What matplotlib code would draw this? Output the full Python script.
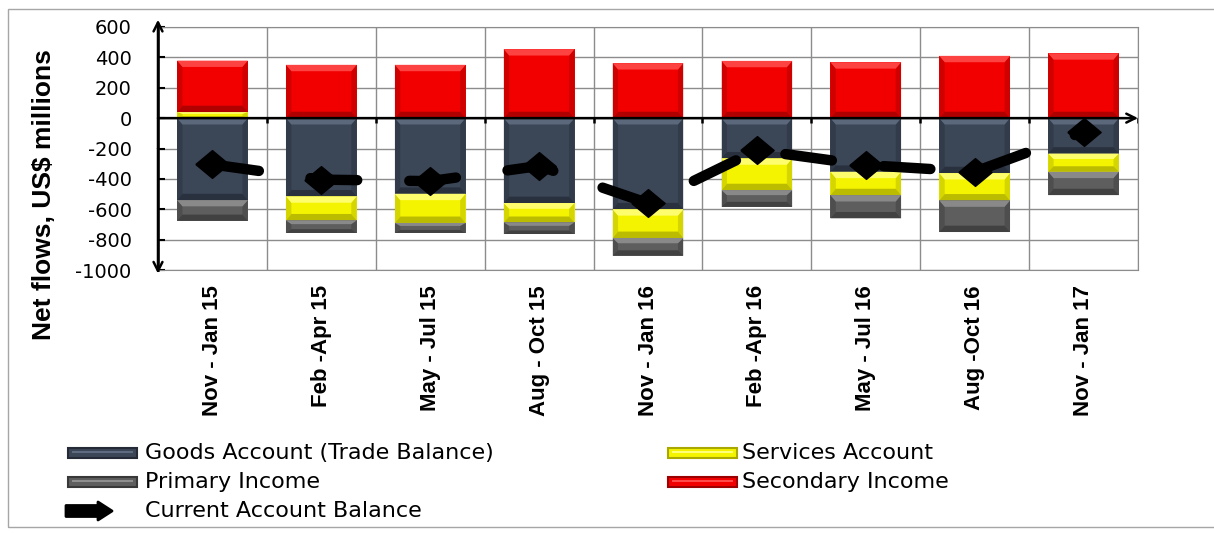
import matplotlib
matplotlib.use("Agg")
import matplotlib.pyplot as plt
import matplotlib.patches as mpatches
from matplotlib.transforms import IdentityTransform
import numpy as np

plt.rcParams["axes.unicode_minus"] = False

periods = ["Nov - Jan 15", "Feb -Apr 15", "May - Jul 15", "Aug - Oct 15", "Nov - Jan 16",
           "Feb -Apr 16", "May - Jul 16", "Aug -Oct 16", "Nov - Jan 17"]
goods = [-540, -515, -498, -559, -600, -265, -353, -362, -233]
services = [40, -158, -192, -127, -189, -209, -154, -180, -120]
primary = [-136, -83, -66, -77, -116, -110, -153, -208, -154]
secondary = [339, 351, 351, 454, 362, 377, 368, 410, 427]
current = [-305, -405, -415, -315, -560, -211, -309, -353, -90]

series = [
    ("Goods Account (Trade Balance)", goods, "#3b4657", "#5f6b80", "#242b36"),
    ("Services Account", services, "#f4f400", "#ffff7a", "#a8a800"),
    ("Primary Income", primary, "#5e5e5e", "#8e8e8e", "#383838"),
    ("Secondary Income", secondary, "#f20000", "#ff4a4a", "#9c0000"),
]

W, H = 1214, 533
fig = plt.figure(figsize=(W / 100, H / 100), dpi=100)
ax = fig.add_axes([158 / W, 1 - 270 / H, (1138 - 158) / W, (270 - 27) / H])

x = np.arange(len(periods))
bar_w = 0.65


def bevel(ax, xc, y_from, y_to, light, dark):
    # bevelled edges on one stacked segment: light top, dark bottom, mid sides
    lo, hi = min(y_from, y_to), max(y_from, y_to)
    x0, x1 = xc - bar_w / 2, xc + bar_w / 2
    bx = 0.05
    by = min(42, (hi - lo) * 0.3)
    top = [(x0, hi), (x1, hi), (x1 - bx, hi - by), (x0 + bx, hi - by)]
    bot = [(x0, lo), (x1, lo), (x1 - bx, lo + by), (x0 + bx, lo + by)]
    left = [(x0, lo), (x0 + bx, lo + by), (x0 + bx, hi - by), (x0, hi)]
    right = [(x1, lo), (x1 - bx, lo + by), (x1 - bx, hi - by), (x1, hi)]
    for pts, c, a in [(left, dark, 0.4), (right, dark, 0.4), (top, light, 0.9), (bot, dark, 0.75)]:
        ax.add_patch(mpatches.Polygon(pts, closed=True, facecolor=c, edgecolor="none",
                                      alpha=a, zorder=2.2))


pos_base = np.zeros(len(x))
neg_base = np.zeros(len(x))
for name, vals, face, light, dark in series:
    vals = np.array(vals, dtype=float)
    base = np.where(vals >= 0, pos_base, neg_base)
    ax.bar(x, vals, bar_w, bottom=base, color=face, edgecolor="none", zorder=2)
    for i in range(len(x)):
        bevel(ax, x[i], base[i], base[i] + vals[i], light, dark)
    pos_base = pos_base + np.where(vals >= 0, vals, 0)
    neg_base = neg_base + np.where(vals < 0, vals, 0)

# current account balance
diamond = [(-1.2, 0), (0, 1), (1.2, 0), (0, -1), (-1.2, 0)]
ax.plot(x, current, color="black", lw=7.5, dashes=(4.5, 5), dash_capstyle="round",
        marker=diamond, markersize=24, zorder=5)

ax.set_xlim(-0.5, len(periods) - 0.5)
ax.set_ylim(-1000, 600)
ax.set_yticks(np.arange(-1000, 601, 200))
ax.set_xticks(x)
ax.set_xticklabels(periods, rotation=90, fontsize=16, fontweight="bold",
                   family="Liberation Sans")
ax.set_xticks(np.arange(-0.5, len(periods), 1), minor=True)
ax.tick_params(axis="x", which="both", length=0, pad=11)
ax.tick_params(axis="y", direction="in", length=5, width=1.5, pad=19, labelsize=14)
for lab in ax.get_yticklabels():
    lab.set_family("DejaVu Sans")

ax.grid(axis="x", which="minor", color="#8c8c8c", lw=1, zorder=0)
ax.grid(axis="y", which="major", color="#8c8c8c", lw=1, zorder=0)
ax.set_axisbelow(True)
for s in ["top", "right", "bottom"]:
    ax.spines[s].set_color("#8c8c8c")
ax.spines["left"].set_color("black")
ax.spines["left"].set_linewidth(1.8)

# axis arrows
arrow = dict(arrowstyle="->", lw=1.8, color="black", mutation_scale=16, shrinkA=0, shrinkB=0)
ax.annotate("", xy=(0, 1.03), xytext=(0, 0.5), xycoords="axes fraction", arrowprops=arrow)
ax.annotate("", xy=(0, -0.015), xytext=(0, 0.5), xycoords="axes fraction", arrowprops=arrow)
ax.annotate("", xy=(len(periods) - 0.5, 0), xytext=(-0.5, 0), arrowprops=arrow, zorder=4)
ax.vlines(np.arange(0.5, len(periods), 1), -35, 0, color="black", lw=1.8, zorder=4)

fig.text(44 / W, 1 - 195 / H, "Net flows, US$ millions", rotation=90, ha="center", va="center",
         fontsize=19, fontweight="bold", family="Liberation Sans")

# legend, drawn in pixel space
ident = IdentityTransform()
rows = [453, 482, 511]
cols = [(68, 145), (668, 742)]
items = [(0, 0, 0), (1, 1, 0), (2, 0, 1), (3, 1, 1)]
for si, ci, ri in items:
    name, _, face, light, dark = series[si]
    hx, tx = cols[ci]
    yc = H - rows[ri]
    fig.add_artist(mpatches.Rectangle((hx, yc - 5), 69, 10, facecolor=face, edgecolor=dark,
                                      lw=1.5, transform=ident))
    fig.add_artist(mpatches.Rectangle((hx + 4, yc), 61, 2.5, facecolor=light, edgecolor="none",
                                      transform=ident))
    fig.text(tx / W, yc / H, name, va="center", ha="left", fontsize=16, family="DejaVu Sans")

yc = H - rows[2]
fig.add_artist(mpatches.FancyArrow(66, yc, 46, 0, width=11, head_width=18, head_length=14,
                                   length_includes_head=True, color="black", lw=2,
                                   joinstyle="round", transform=ident))
fig.text(cols[0][1] / W, yc / H, "Current Account Balance", va="center", ha="left",
         fontsize=16, family="DejaVu Sans")

# outer frame
fig.add_artist(mpatches.Rectangle((8, 6), W, H - 15, facecolor="none", edgecolor="#a6a6a6",
                                  lw=1, transform=ident))

fig.savefig("out.png", dpi=100)
